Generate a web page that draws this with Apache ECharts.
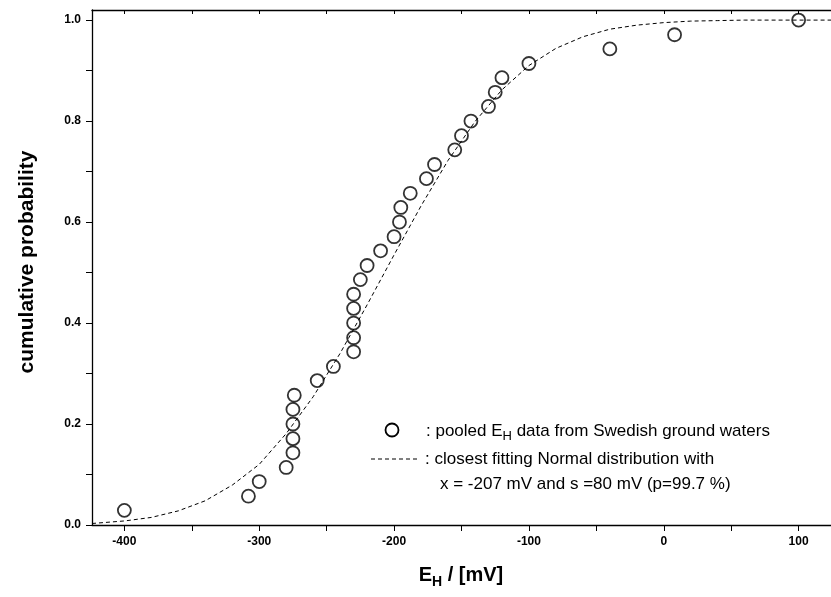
<!DOCTYPE html>
<html>
<head>
<meta charset="utf-8">
<script src="https://cdn.jsdelivr.net/npm/echarts@6/dist/echarts.min.js"></script>
<style>
html,body{margin:0;padding:0;background:#fff;}
#chart{width:831px;height:597px;}
</style>
</head>
<body>
<div id="chart"></div>
<script>
// measured Eh values (mV) and their cumulative probability
const ehValues = [-400, -308, -300, -280, -275, -275, -275, -275, -274, -257, -245, -230, -230, -230, -230, -230, -225, -220, -210, -200, -196, -195, -188, -176, -170, -155, -150, -143, -130, -125, -120, -100, -40, 8, 100];
const cumProb = [0.029, 0.057, 0.086, 0.114, 0.143, 0.171, 0.200, 0.229, 0.257, 0.286, 0.314, 0.343, 0.371, 0.400, 0.429, 0.457, 0.486, 0.514, 0.543, 0.571, 0.600, 0.629, 0.657, 0.686, 0.714, 0.743, 0.771, 0.800, 0.829, 0.857, 0.886, 0.914, 0.943, 0.971, 1.000];
// fitted normal curve
const curveX = [-424, -400, -380, -360, -340, -320, -300, -280, -260, -240, -220, -200, -180, -160, -140, -120, -100, -80, -60, -40, -20, 0, 20, 40, 60, 80, 100, 124];
const curveY = [0.003, 0.008, 0.015, 0.028, 0.048, 0.079, 0.120, 0.181, 0.254, 0.340, 0.436, 0.535, 0.632, 0.722, 0.799, 0.862, 0.910, 0.944, 0.967, 0.982, 0.990, 0.995, 0.998, 0.999, 1.000, 1.000, 1.000, 1.000];
// axis ticks
const xTicks = [-400, -350, -300, -250, -200, -150, -100, -50, 0, 50, 100];
const xLabels = [-400, -300, -200, -100, 0, 100];
const yTicks = [0, 0.1, 0.2, 0.3, 0.4, 0.5, 0.6, 0.7, 0.8, 0.9, 1.0];
const yLabels = [0, 0.2, 0.4, 0.6, 0.8, 1.0];

const FONT = '"Liberation Sans", Arial, sans-serif';
const chart = echarts.init(document.getElementById('chart'), null, {renderer: 'canvas'});

const axisLineStyle = {color: '#000', width: 1.3};

const option = {
  backgroundColor: '#fff',
  animation: false,
  grid: {left: 92, right: 0, top: 10, bottom: 72, containLabel: false},
  xAxis: [{
    type: 'value', position: 'bottom', min: -424, max: 124,
    splitLine: {show: false},
    axisLine: {show: true, onZero: false, lineStyle: axisLineStyle},
    axisTick: {show: true, inside: false, length: 6, customValues: xTicks, lineStyle: {color: '#000', width: 1}},
    axisLabel: {customValues: xLabels, margin: 11, color: '#000', fontWeight: 'bold', fontSize: 12, fontFamily: FONT}
  }, {
    type: 'value', position: 'top', min: -424, max: 124,
    splitLine: {show: false},
    axisLine: {show: true, onZero: false, lineStyle: axisLineStyle},
    axisTick: {show: true, inside: true, length: 4, customValues: xTicks, lineStyle: {color: '#000', width: 1}},
    axisLabel: {show: false}
  }],
  yAxis: [{
    type: 'value', min: 0, max: 1.02,
    splitLine: {show: false},
    axisLine: {show: true, onZero: false, lineStyle: axisLineStyle},
    axisTick: {show: true, inside: false, length: 6, customValues: yTicks, lineStyle: {color: '#000', width: 1}},
    axisLabel: {customValues: yLabels, margin: 11, color: '#000', fontWeight: 'bold', fontSize: 12, fontFamily: FONT,
      formatter: v => v.toFixed(1)}
  }],
  series: [{
    type: 'line',
    data: curveX.map((x, i) => [x, curveY[i]]),
    showSymbol: false, symbol: 'none',
    lineStyle: {color: '#000', width: 1, type: [4, 3]},
    z: 2
  }, {
    type: 'scatter',
    data: ehValues.map((x, i) => [x, cumProb[i]]),
    symbol: 'circle', symbolSize: 13,
    itemStyle: {color: 'rgba(255,255,255,0)', borderColor: '#000', borderWidth: 1.8},
    z: 3
  }],
  graphic: [
    {type: 'text', x: 27, y: 262, rotation: Math.PI / 2,
      style: {text: 'cumulative probability', fill: '#000', font: 'bold 21px ' + FONT, align: 'center', verticalAlign: 'middle'}},
    {type: 'text', x: 461, y: 575,
      style: {text: '{e|E}{h|H}{e| / [mV]}', fill: '#000', align: 'center', verticalAlign: 'middle',
        rich: {
          e: {font: 'bold 20px ' + FONT, lineHeight: 28, verticalAlign: 'middle'},
          h: {font: 'bold 14px ' + FONT, lineHeight: 14, verticalAlign: 'bottom'}
        }}},
    {type: 'circle', shape: {cx: 392, cy: 430, r: 6.5}, style: {fill: 'none', stroke: '#000', lineWidth: 1.8}},
    {type: 'text', x: 426, y: 431,
      style: {text: '{n|: pooled E}{h|H}{n| data from Swedish ground waters}', fill: '#000', verticalAlign: 'middle',
        rich: {
          n: {font: '17px ' + FONT, lineHeight: 24, verticalAlign: 'middle'},
          h: {font: '13px ' + FONT, lineHeight: 13, verticalAlign: 'bottom'}
        }}},
    {type: 'line', shape: {x1: 371, y1: 459, x2: 418, y2: 459}, style: {stroke: '#000', lineWidth: 1, lineDash: [4, 3]}},
    {type: 'text', x: 425, y: 459,
      style: {text: ': closest fitting Normal distribution with', fill: '#000', font: '17px ' + FONT, verticalAlign: 'middle'}},
    {type: 'text', x: 440, y: 484,
      style: {text: 'x = -207 mV and s =80 mV (p=99.7 %)', fill: '#000', font: '17px ' + FONT, verticalAlign: 'middle'}}
  ]
};
chart.setOption(option);
</script>
</body>
</html>
